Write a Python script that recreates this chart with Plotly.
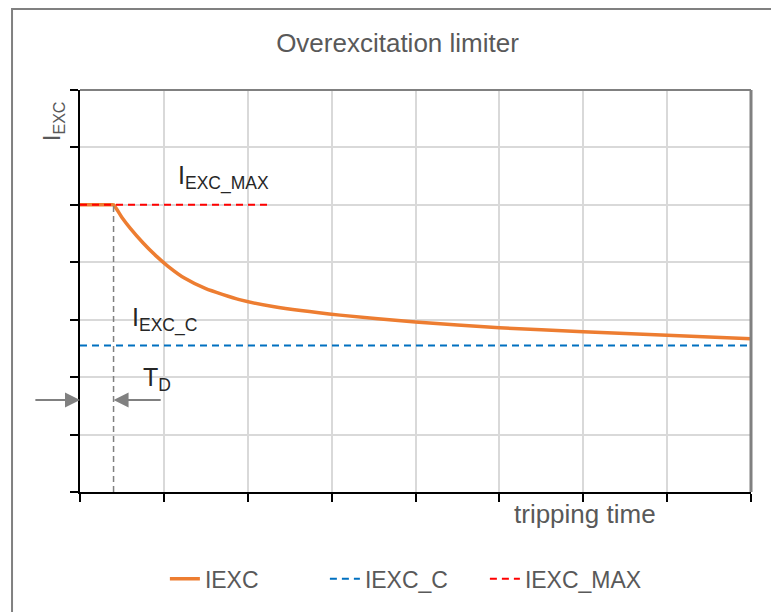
import plotly.graph_objects as go

# ---- data ----
t_curve = [0, 0.35, 0.4, 0.5, 0.6, 0.75, 0.9, 1.05, 1.25, 1.5, 1.9, 2.3, 3.1, 4.0, 5.0, 6.0, 7.0, 8.0]
iexc_curve = [5.0, 5.0, 5.0, 4.78, 4.59, 4.34, 4.12, 3.93, 3.72, 3.54, 3.35, 3.23, 3.08, 2.96, 2.86, 2.79, 2.73, 2.67]
iexc_c_x = [0, 8]
iexc_c_y = [2.55, 2.55]
iexc_max_x = [0, 2.28]
iexc_max_y = [5.0, 5.0]
td_value = 0.4
td_line_x = [td_value, td_value]
td_line_y = [0, 5.0]
arrow_y = 1.6
left_arrow_tail = -0.55
right_arrow_tail = 0.98

GREY_TXT = "#595959"
FONT = "Liberation Sans, Arial, sans-serif"

fig = go.Figure()
fig.add_trace(go.Scatter(x=t_curve, y=iexc_curve, mode="lines", name="IEXC",
                         line=dict(color="#ED7D31", width=3.5, shape="spline", smoothing=0.5)))
fig.add_trace(go.Scatter(x=iexc_c_x, y=iexc_c_y, mode="lines", name="IEXC_C",
                         line=dict(color="#0070C0", width=2, dash="7px,5px")))
fig.add_trace(go.Scatter(x=iexc_max_x, y=iexc_max_y, mode="lines", name="IEXC_MAX",
                         line=dict(color="#FF0000", width=2, dash="7px,5px")))
fig.add_trace(go.Scatter(x=td_line_x, y=td_line_y, mode="lines", showlegend=False,
                         line=dict(color="#808080", width=1.5, dash="6px,4px")))

annotations = [
    dict(text="I<sub>EXC_MAX</sub>", x=1.15, y=5.15, xref="x", yref="y", xanchor="left",
         yanchor="bottom", showarrow=False, font=dict(size=25, color="#262626")),
    dict(text="I<sub>EXC_C</sub>", x=0.6, y=2.68, xref="x", yref="y", xanchor="left",
         yanchor="bottom", showarrow=False, font=dict(size=25, color="#262626")),
    dict(text="T<sub>D</sub>", x=0.73, y=1.65, xref="x", yref="y", xanchor="left",
         yanchor="bottom", showarrow=False, font=dict(size=25, color="#262626")),
    dict(text="I<sub>EXC</sub>", x=-0.0387, y=0.923, xref="paper", yref="paper", textangle=-90,
         xanchor="center", yanchor="middle", showarrow=False, font=dict(size=23, color=GREY_TXT)),
    dict(text="tripping time", x=6.02, y=-0.055, xref="x", yref="paper", xanchor="center",
         yanchor="middle", showarrow=False, font=dict(size=26, color=GREY_TXT)),
    dict(text="", x=0, y=arrow_y, ax=left_arrow_tail, ay=arrow_y, xref="x", yref="y",
         axref="x", ayref="y", showarrow=True, arrowhead=2, arrowsize=1.5, arrowwidth=2,
         arrowcolor="#808080"),
    dict(text="", x=td_value, y=arrow_y, ax=right_arrow_tail, ay=arrow_y, xref="x", yref="y",
         axref="x", ayref="y", showarrow=True, arrowhead=2, arrowsize=1.5, arrowwidth=2,
         arrowcolor="#808080"),
]

shapes = [
    # outer frame (right and bottom sides lie outside the window)
    dict(type="rect", xref="paper", yref="paper", x0=-0.1013, y0=-0.6, x1=1.3, y1=1.2015,
         line=dict(color="#808080", width=2), fillcolor="rgba(0,0,0,0)", layer="below"),
    # top & right border of plot area
    dict(type="line", xref="paper", yref="paper", x0=0, y0=1, x1=1, y1=1,
         line=dict(color="#808080", width=2)),
    dict(type="line", xref="paper", yref="paper", x0=1, y0=0, x1=1, y1=1,
         line=dict(color="#808080", width=3)),
]

fig.update_layout(
    width=779, height=612,
    margin=dict(l=72, r=36, t=82, b=128),
    paper_bgcolor="white", plot_bgcolor="white",
    font=dict(family=FONT, color=GREY_TXT),
    title=dict(text="Overexcitation limiter", x=0.5, xanchor="center",
               y=1 - 35 / 612, yanchor="middle", font=dict(size=26, color=GREY_TXT)),
    xaxis=dict(range=[0, 8], dtick=1, tick0=0, showticklabels=False, showgrid=True,
               gridcolor="#D9D9D9", gridwidth=1.5, zeroline=False, showline=True,
               linecolor="#000000", linewidth=2, ticks="outside", ticklen=8, tickwidth=2,
               tickcolor="#000000"),
    yaxis=dict(range=[0, 7], dtick=1, tick0=0, showticklabels=False, showgrid=True,
               gridcolor="#D9D9D9", gridwidth=1.5, zeroline=False, showline=True,
               linecolor="#000000", linewidth=2, ticks="outside", ticklen=8, tickwidth=2,
               tickcolor="#000000"),
    legend=dict(orientation="h", x=0.1265, xanchor="left", y=-0.216, yanchor="middle",
                entrywidth=115, entrywidthmode="pixels",
                font=dict(size=23, color=GREY_TXT), bgcolor="rgba(0,0,0,0)"),
    annotations=annotations,
    shapes=shapes,
)

fig.write_html("out.html")
